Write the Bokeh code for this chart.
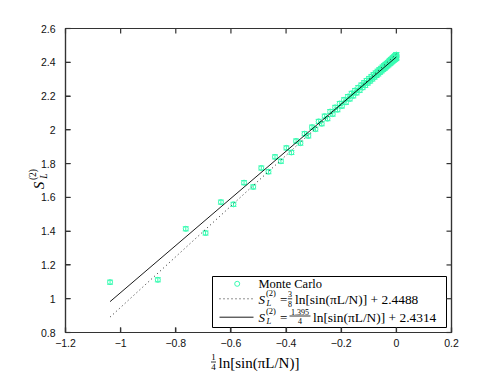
from bokeh.plotting import figure
from bokeh.models import Label, FixedTicker, CustomJSTickFormatter, Range1d, BoxAnnotation
from bokeh.embed import file_html
from bokeh.resources import INLINE

# ---------------- data ----------------
mc_x = [
    -1.0384, -0.8651, -0.7638, -0.6920, -0.6363, -0.5908, -0.5524, -0.5192, -0.4899, -0.4638,
    -0.4402, -0.4186, -0.3989, -0.3807, -0.3637, -0.3479, -0.3331, -0.3192, -0.3060, -0.2936,
    -0.2818, -0.2706, -0.2600, -0.2498, -0.2401, -0.2308, -0.2220, -0.2134, -0.2053, -0.1974,
    -0.1898, -0.1826, -0.1756, -0.1688, -0.1623, -0.1560, -0.1499, -0.1440, -0.1383, -0.1328,
    -0.1275, -0.1224, -0.1174, -0.1126, -0.1079, -0.1034, -0.0990, -0.0947, -0.0906, -0.0866,
    -0.0828, -0.0790, -0.0754, -0.0719, -0.0685, -0.0652, -0.0620, -0.0589, -0.0559, -0.0530,
    -0.0502, -0.0475, -0.0449, -0.0423, -0.0399, -0.0375, -0.0352, -0.0330, -0.0309, -0.0288,
    -0.0269, -0.0250, -0.0232, -0.0215, -0.0198, -0.0182, -0.0167, -0.0152, -0.0139, -0.0125,
    -0.0113, -0.0101, -0.0090, -0.0080, -0.0070, -0.0061, -0.0052, -0.0045, -0.0038, -0.0031,
    -0.0025, -0.0020, -0.0015, -0.0011, -0.0008, -0.0005, -0.0003, -0.0001, 0.0000, 0.0000]
mc_y = [
    1.098, 1.112, 1.414, 1.389, 1.572, 1.559, 1.687, 1.662, 1.774, 1.752,
    1.840, 1.814, 1.893, 1.866, 1.934, 1.921, 1.977, 1.964, 2.016, 2.004,
    2.050, 2.036, 2.081, 2.066, 2.108, 2.093, 2.133, 2.119, 2.156, 2.141,
    2.178, 2.163, 2.197, 2.183, 2.216, 2.201, 2.233, 2.219, 2.250, 2.234,
    2.265, 2.250, 2.279, 2.263, 2.292, 2.277, 2.304, 2.289, 2.316, 2.301,
    2.327, 2.312, 2.337, 2.322, 2.347, 2.331, 2.356, 2.341, 2.364, 2.349,
    2.372, 2.357, 2.380, 2.364, 2.387, 2.372, 2.393, 2.378, 2.399, 2.384,
    2.406, 2.390, 2.411, 2.394, 2.416, 2.400, 2.420, 2.404, 2.424, 2.408,
    2.428, 2.411, 2.431, 2.414, 2.434, 2.417, 2.436, 2.419, 2.438, 2.421,
    2.440, 2.423, 2.441, 2.424, 2.443, 2.425, 2.444, 2.425, 2.445, 2.428]
mc_err = 0.012

fit_x = [-1.0384, 0.0]
fit_exact_y = [0.8912, 2.4488]   # (3/8) ln[sin] + 2.4488
fit_free_y = [0.9828, 2.4314]    # (1.395/4) ln[sin] + 2.4314

x_ticks = [-1.2, -1.0, -0.8, -0.6, -0.4, -0.2, 0.0, 0.2]
y_ticks = [0.8, 1.0, 1.2, 1.4, 1.6, 1.8, 2.0, 2.2, 2.4, 2.6]

# ---------------- geometry ----------------
XMIN, XMAX, YMIN, YMAX = -1.2, 0.2, 0.8, 2.6
FL, FR, FT, FB = 65, 451, 28, 332      # MATLAB axes box, canvas px
W, H = 482, 372

def dx(px):
    return XMIN + (px - FL) / (FR - FL) * (XMAX - XMIN)

def dy(py):
    return YMAX - (py - FT) / (FB - FT) * (YMAX - YMIN)

p = figure(width=W, height=H, output_backend="svg", toolbar_location=None,
           x_range=Range1d(dx(0), dx(W)), y_range=Range1d(dy(H), dy(0)),
           min_border_left=0, min_border_right=0, min_border_top=0, min_border_bottom=0)
p.xgrid.visible = False
p.ygrid.visible = False
p.outline_line_color = None

fmt = CustomJSTickFormatter(code="""
const v = Math.round(tick*10)/10;
let s = (Math.abs(v) < 1e-9) ? "0" : String(v);
return s.replace("-", "\u2212");
""")

AX = "#333333"
AXW = 1.2
for ax, ticks, loc in ((p.xaxis[0], x_ticks, YMIN), (p.yaxis[0], y_ticks, XMIN)):
    ax.fixed_location = loc
    ax.ticker = FixedTicker(ticks=ticks)
    ax.formatter = fmt
    ax.major_tick_in = 5
    ax.major_tick_out = 0
    ax.minor_tick_in = 0
    ax.minor_tick_out = 0
    ax.major_tick_line_color = AX
    ax.major_tick_line_width = AXW
    ax.axis_line_color = None
    ax.major_label_text_font = "Liberation Sans"
    ax.major_label_text_font_size = "10.5px"
    ax.major_label_text_color = "#111111"
p.xaxis[0].major_label_standoff = 6
p.yaxis[0].major_label_standoff = 10

MC = "#38fcb2"

# Monte Carlo points with error bars
y_lo = [v - mc_err for v in mc_y]
y_hi = [v + mc_err for v in mc_y]
p.segment(x0=mc_x, y0=y_lo, x1=mc_x, y1=y_hi, line_color=MC, line_width=1)
p.scatter(mc_x, y_lo, marker="dash", size=6, line_color=MC, line_width=1)
p.scatter(mc_x, y_hi, marker="dash", size=6, line_color=MC, line_width=1)
p.scatter(mc_x, mc_y, marker="circle", size=5, line_color=MC, fill_color=None, line_width=1)

# fit lines (drawn over the points)
p.line(fit_x, fit_exact_y, line_color="#222222", line_width=1, line_dash="1 3")
p.line(fit_x, fit_free_y, line_color="black", line_width=0.9)

# axes box: annotation box plus overlay-level glyphs, mirrored inward ticks
p.add_layout(BoxAnnotation(left=XMIN, right=XMAX, bottom=YMIN, top=YMAX,
                           fill_alpha=0, fill_color=None, line_color=AX,
                           line_width=AXW, line_alpha=1, level="overlay"))
box_r = p.quad(left=[XMIN], right=[XMAX], bottom=[YMIN], top=[YMAX],
               fill_color=None, line_color=AX, line_width=AXW)
box_r.level = "overlay"
tick_dy = 5 / (FB - FT) * (YMAX - YMIN)
tick_dx = 5 / (FR - FL) * (XMAX - XMIN)
t1 = p.segment(x0=x_ticks, y0=[YMAX] * len(x_ticks), x1=x_ticks, y1=[YMAX - tick_dy] * len(x_ticks),
               line_color=AX, line_width=AXW)
t2 = p.segment(x0=[XMAX] * len(y_ticks), y0=y_ticks, x1=[XMAX - tick_dx] * len(y_ticks), y1=y_ticks,
               line_color=AX, line_width=AXW)
t3 = p.segment(x0=x_ticks, y0=[YMIN] * len(x_ticks), x1=x_ticks, y1=[YMIN + tick_dy] * len(x_ticks),
               line_color=AX, line_width=AXW)
t4 = p.segment(x0=[XMIN] * len(y_ticks), y0=y_ticks, x1=[XMIN + tick_dx] * len(y_ticks), y1=y_ticks,
               line_color=AX, line_width=AXW)
for r in (t1, t2, t3, t4):
    r.level = "overlay"

SERIF = "Liberation Serif"

def lab(px, py, text, size, align="left", style="normal", angle=0.0, baseline="middle"):
    p.add_layout(Label(x=dx(px), y=dy(py), text=text, text_font=SERIF,
                       text_font_size=f"{size}px", text_align=align,
                       text_baseline=baseline, text_font_style=style,
                       angle=angle, text_color="black"))

# legend box
p.quad(left=[dx(212)], right=[dx(446)], top=[dy(276)], bottom=[dy(327)],
       fill_color="white", line_color="black", line_width=1)
p.scatter([dx(236.7)], [dy(283.3)], marker="circle", size=5, line_color=MC,
          fill_color=None, line_width=1)
p.line([dx(219), dx(253)], [dy(298.3), dy(298.3)], line_color="#222222",
       line_width=1, line_dash="1 3")
p.line([dx(219), dx(253)], [dy(316.7), dy(316.7)], line_color="black", line_width=0.9)

lab(258, 283.5, "Monte Carlo", 12.5)
# row 2
lab(258, 298.5, "S", 13, style="italic")
lab(265.5, 292.0, "(2)", 8.5)
lab(266.0, 302.5, "L", 8.5, style="italic")
lab(279.5, 298.5, "=", 13)
lab(289.5, 293.3, "3", 8, align="center")
p.segment(x0=[dx(287.3)], y0=[dy(298.3)], x1=[dx(291.7)], y1=[dy(298.3)],
          line_color="black", line_width=0.8)
lab(289.5, 303.0, "8", 8, align="center")
lab(294.5, 298.5, "ln[sin(πL/N)] + 2.4488", 13.4)
# row 3
lab(258, 316.8, "S", 13, style="italic")
lab(265.5, 310.3, "(2)", 8.5)
lab(266.0, 320.8, "L", 8.5, style="italic")
lab(279.5, 316.8, "=", 13)
lab(299.5, 311.0, "1.395", 8, align="center")
p.segment(x0=[dx(289)], y0=[dy(315.5)], x1=[dx(310)], y1=[dy(315.5)],
          line_color="black", line_width=0.8)
lab(299.5, 320.8, "4", 8, align="center")
lab(312.5, 316.8, "ln[sin(πL/N)] + 2.4314", 13.4)

# x-axis label
lab(213, 356.5, "1", 9, align="center")
p.segment(x0=[dx(210.5)], y0=[dy(361.5)], x1=[dx(215.5)], y1=[dy(361.5)],
          line_color="black", line_width=0.8)
lab(213, 366.5, "4", 9, align="center")
lab(218, 362.0, "ln[sin(πL/N)]", 15)

# y-axis label (rotated)
ANG = 1.5707963
lab(38.5, 185.0, "S", 15, align="center", style="italic", angle=ANG)
lab(32.0, 174.0, "(2)", 9.5, align="center", angle=ANG)
lab(43.5, 175.5, "L", 9.5, align="center", style="italic", angle=ANG)

open("out.html", "w").write(file_html(p, INLINE))
